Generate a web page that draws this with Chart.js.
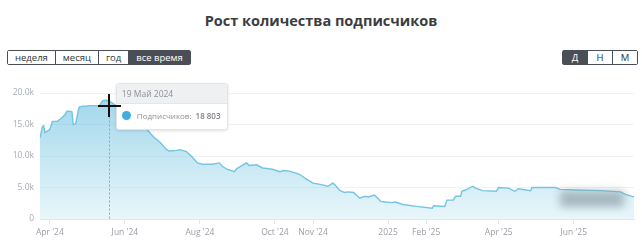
<!DOCTYPE html>
<html>
<head>
<meta charset="utf-8">
<script src="https://cdn.jsdelivr.net/npm/chart.js@4"></script>
<style>
  body { margin: 0; width: 642px; height: 252px; background: #fff; font-family: "Open Sans", sans-serif; overflow: hidden; }
  .wrap { position: relative; width: 642px; height: 252px; }
  h1 { position: absolute; top: 11px; left: 0; width: 642px; margin: 0; text-align: center; font-size: 14.5px; font-weight: 700; color: #3b3d40; }
  .group { position: absolute; top: 50px; display: flex; border: 1px solid #4a4f57; border-radius: 2px; }
  .group span { font-size: 9.5px; line-height: 13px; padding: 0 7px; color: #333; border-left: 1px solid #4a4f57; background: #fff; }
  .group span:first-child { border-left: none; }
  .group span.on { background: #4a4f57; color: #fff; }
  #range { left: 7px; }
  #step { left: 562px; }
  #step span { width: 10px; text-align: center; }
  canvas { position: absolute; left: 0; top: 0; }
  #tip { position: absolute; background: #fff; border: 1px solid #e3e5e7; border-radius: 3px; box-shadow: 0 1px 3px rgba(0,0,0,0.12); font-size: 8.5px; color: #8d9096; width: 110px; white-space: nowrap; }
  #tip .head { background: #eef0f1; padding: 4px 5px; border-bottom: 1px solid #e3e5e7; }
  #tip .body { padding: 6px 4px 8px 5px; display: flex; align-items: center; font-size: 8px; }
  #tip .dot { flex: none; width: 9px; height: 9px; border-radius: 50%; background: #3eb1da; margin-right: 6px; }
  #tip b { color: #7a7e84; font-weight: 600; margin-left: 4px; }
  .cur { position: absolute; background: #1a0f0a; }
  #blur { position: absolute; left: 560px; top: 191px; width: 64px; height: 16px; background: rgba(130,145,155,0.6); filter: blur(4px); }
</style>
</head>
<body>
<div class="wrap">
  <h1>Рост количества подписчиков</h1>
  <div class="group" id="range"><span>неделя</span><span>месяц</span><span>год</span><span class="on">все время</span></div>
  <div class="group" id="step"><span class="on">Д</span><span>Н</span><span>М</span></div>
  <canvas id="growthChart" width="642" height="252"></canvas>
  <div id="blur"></div>
  <div id="tip"><div class="head" id="tipTitle"></div><div class="body"><div class="dot"></div><span id="tipLabel"></span><b id="tipValue"></b></div></div>
  <div class="cur" id="curH"></div>
  <div class="cur" id="curV"></div>
</div>
<script>
const seriesLabel = "Подписчиков";

const dates = [
  "2024-03-24", "2024-03-26", "2024-03-27", "2024-03-28", "2024-04-01", "2024-04-03",
  "2024-04-07", "2024-04-09", "2024-04-11", "2024-04-13", "2024-04-15", "2024-04-17",
  "2024-04-19", "2024-04-20", "2024-04-22", "2024-04-24", "2024-04-25", "2024-04-28",
  "2024-05-01", "2024-05-03", "2024-05-09", "2024-05-11", "2024-05-14", "2024-05-16",
  "2024-05-19", "2024-05-21", "2024-05-24", "2024-05-28", "2024-06-02", "2024-06-07",
  "2024-06-13", "2024-06-19", "2024-06-24", "2024-06-30", "2024-07-05", "2024-07-07",
  "2024-07-13", "2024-07-16", "2024-07-21", "2024-07-25", "2024-07-30", "2024-08-03",
  "2024-08-07", "2024-08-11", "2024-08-17", "2024-08-19", "2024-08-23", "2024-08-29",
  "2024-08-31", "2024-09-08", "2024-09-10", "2024-09-16", "2024-09-21", "2024-09-29",
  "2024-10-05", "2024-10-08", "2024-10-13", "2024-10-21", "2024-10-27", "2024-11-01",
  "2024-11-07", "2024-11-13", "2024-11-17", "2024-11-19", "2024-11-23", "2024-11-27",
  "2024-11-29", "2024-12-04", "2024-12-09", "2024-12-13", "2024-12-16", "2024-12-21",
  "2024-12-26", "2024-12-30", "2025-01-04", "2025-01-07", "2025-01-13", "2025-01-24",
  "2025-02-06", "2025-02-07", "2025-02-16", "2025-02-18", "2025-02-23", "2025-02-25",
  "2025-03-01", "2025-03-02", "2025-03-05", "2025-03-09", "2025-03-11", "2025-03-13",
  "2025-03-19", "2025-03-30", "2025-04-01", "2025-04-09", "2025-04-14", "2025-04-17",
  "2025-04-27", "2025-04-28", "2025-05-17", "2025-05-21", "2025-06-02", "2025-06-23",
  "2025-07-09", "2025-07-13", "2025-07-20"
];

const subscribers = [
  12900, 14700, 14800, 13700, 14200, 15500,
  15500, 15800, 16100, 16500, 17100, 17100,
  17000, 15000, 15100, 17100, 17800, 17900,
  17900, 18000, 18000, 17900, 18800, 18850,
  18803, 18500, 18100, 17100, 16600, 15800,
  15100, 14200, 13100, 12100, 11000, 10800,
  10900, 11000, 10700, 10000, 8900, 8700,
  8700, 8700, 8900, 8400, 7900, 7500,
  8000, 8900, 8500, 8600, 8100, 7900,
  7500, 7700, 7600, 7100, 6300, 5700,
  5500, 5200, 5700, 5400, 4500, 4200,
  4300, 4200, 3300, 3600, 3500, 3800,
  2800, 2700, 2600, 2700, 2300, 2000,
  1700, 2100, 2000, 3000, 3000, 3600,
  3600, 4400, 4600, 5000, 5200, 4900,
  4500, 4400, 5000, 4900, 4400, 4800,
  4500, 5000, 5000, 4700, 4600, 4500,
  4300, 3900, 3500
];

const tickDates = ["2024-04-01", "2024-06-01", "2024-08-01", "2024-10-01", "2024-11-01",
  "2025-01-01", "2025-02-01", "2025-04-01", "2025-06-01"];
const tickLabels = ["Apr '24", "Jun '24", "Aug '24", "Oct '24", "Nov '24",
  "2025", "Feb '25", "Apr '25", "Jun '25"];
const yTicks = [0, 5000, 10000, 15000, 20000];
const yTickLabels = ["0", "5.0k", "10.0k", "15.0k", "20.0k"];

const ruMonths = ["Январь", "Февраль", "Март", "Апрель", "Май", "Июнь", "Июль", "Август",
  "Сентябрь", "Октябрь", "Ноябрь", "Декабрь"];
const hoverDate = "2024-05-19";

const toDay = (s) => {
  const [y, m, d] = s.split("-").map(Number);
  return Date.UTC(y, m - 1, d) / 864e5;
};

const points = dates.map((d, i) => ({ x: toDay(d), y: subscribers[i] }));
const tickDays = tickDates.map(toDay);
const hoverIndex = dates.indexOf(hoverDate);

const hoverLine = {
  id: "hoverLine",
  afterDatasetsDraw(chart) {
    const p = chart.getDatasetMeta(0).data[hoverIndex];
    const ctx = chart.ctx;
    ctx.save();
    ctx.strokeStyle = "#9aa3ab";
    ctx.lineWidth = 1;
    ctx.setLineDash([2, 2]);
    ctx.beginPath();
    ctx.moveTo(Math.round(p.x) + 0.5, p.y);
    ctx.lineTo(Math.round(p.x) + 0.5, chart.chartArea.bottom);
    ctx.stroke();
    ctx.restore();
  },
};

const ctx = document.getElementById("growthChart").getContext("2d");
const grad = ctx.createLinearGradient(0, 93, 0, 219);
grad.addColorStop(0, "rgba(105,192,224,0.64)");
grad.addColorStop(1, "rgba(105,192,224,0.15)");

const chart = new Chart(ctx, {
  type: "line",
  data: {
    datasets: [
      {
        label: seriesLabel,
        data: points,
        borderColor: "#74c5e1",
        backgroundColor: grad,
        borderWidth: 1.4,
        pointRadius: 0,
        tension: 0,
        fill: "origin",
      },
    ],
  },
  options: {
    responsive: false,
    animation: false,
    events: [],
    layout: { padding: { top: 93, right: 8, left: 0, bottom: 0 } },
    plugins: { legend: { display: false }, tooltip: { enabled: false } },
    scales: {
      x: {
        type: "linear",
        min: points[0].x,
        max: points[points.length - 1].x,
        afterBuildTicks: (scale) => {
          scale.ticks = tickDays.map((v) => ({ value: v }));
        },
        afterFit: (scale) => { scale.height = 33; },
        ticks: {
          autoSkip: false,
          maxRotation: 0,
          padding: 3,
          color: "#9a9ea5",
          font: { family: "Open Sans", size: 8.5 },
          callback: (v) => tickLabels[tickDays.indexOf(v)],
        },
        grid: { drawOnChartArea: false, drawTicks: true, tickLength: 5, color: "#e4e6e8" },
        border: { color: "#e4e6e8" },
      },
      y: {
        min: 0,
        max: 20000,
        afterBuildTicks: (scale) => {
          scale.ticks = yTicks.map((v) => ({ value: v }));
        },
        afterFit: (scale) => { scale.width = 40; },
        ticks: {
          padding: 6,
          color: "#a6abb8",
          font: { family: "Open Sans", size: 8.5 },
          callback: (v) => yTickLabels[yTicks.indexOf(v)],
        },
        grid: { drawTicks: false, color: "#f1f2f3" },
        border: { display: false },
      },
    },
  },
  plugins: [hoverLine],
});

// tooltip in the style of the original, placed from the chart's own scales
const p = chart.getDatasetMeta(0).data[hoverIndex];
const [hy, hm, hd] = hoverDate.split("-").map(Number);
document.getElementById("tipTitle").textContent = `${hd} ${ruMonths[hm - 1].slice(0, 3)} ${hy}`;
document.getElementById("tipLabel").textContent = `${seriesLabel}:`;
document.getElementById("tipValue").textContent =
  String(subscribers[hoverIndex]).replace(/\B(?=(\d{3})+(?!\d))/g, "\u00a0");
const tip = document.getElementById("tip");
tip.style.left = `${p.x + 7}px`;
tip.style.top = `${p.y - 18}px`;

const curH = document.getElementById("curH");
Object.assign(curH.style, { left: `${p.x - 11}px`, top: `${p.y + 4}px`, width: "23px", height: "2px" });
const curV = document.getElementById("curV");
Object.assign(curV.style, { left: `${p.x - 1}px`, top: `${p.y - 7}px`, width: "2px", height: "23px" });
</script>
</body>
</html>
